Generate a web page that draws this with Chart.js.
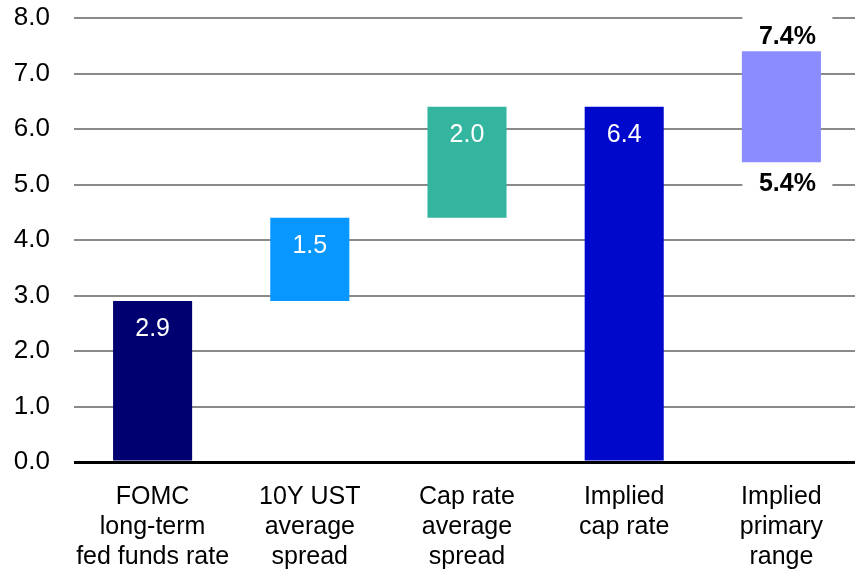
<!DOCTYPE html>
<html>
<head>
<meta charset="utf-8">
<script src="https://cdn.jsdelivr.net/npm/chart.js@4"></script>
<style>
  html, body { margin: 0; padding: 0; background: #fff; overflow: hidden; }
  #wrap { width: 855px; height: 570px; overflow: hidden; }
</style>
</head>
<body>
<div id="wrap"><canvas id="c" width="860" height="570"></canvas></div>
<script>
// Build-up of the implied cap rate from its components
const categories = [
  ['FOMC', 'long-term', 'fed funds rate'],
  ['10Y UST', 'average', 'spread'],
  ['Cap rate', 'average', 'spread'],
  ['Implied', 'cap rate'],
  ['Implied', 'primary', 'range']
];
const barLow  = [0.0, 2.9, 4.4, 0.0, 5.4];
const barHigh = [2.9, 4.4, 6.4, 6.4, 7.4];
const barColors = ['#000070', '#0897ff', '#33b59f', '#0008cc', '#8b8cff'];
// Bars whose size is printed inside; the last bar shows its ends instead
const showInside = [true, true, true, true, false];
const rangeIndex = 4;
const yTicks = { min: 0, max: 8, step: 1 };

const FONT = "'Liberation Sans', Arial, sans-serif";

const labelsPlugin = {
  id: 'barLabels',
  beforeDatasetsDraw(chart) {
    // white boxes behind the range end labels interrupt the gridlines
    const ctx = chart.ctx;
    const bar = chart.getDatasetMeta(0).data[rangeIndex];
    const cx = bar.x + 6;
    ctx.save();
    ctx.fillStyle = '#ffffff';
    ctx.fillRect(cx - 45, bar.y - 36, 90, 34);
    ctx.fillRect(cx - 45, bar.base + 3, 90, 36);
    ctx.restore();
  },
  afterDatasetsDraw(chart) {
    const ctx = chart.ctx;
    const meta = chart.getDatasetMeta(0);
    ctx.save();
    ctx.textAlign = 'center';
    ctx.textBaseline = 'middle';
    meta.data.forEach((bar, i) => {
      const lo = barLow[i], hi = barHigh[i];
      if (showInside[i]) {
        ctx.fillStyle = '#ffffff';
        ctx.font = '25px ' + FONT;
        ctx.fillText((hi - lo).toFixed(1), bar.x, bar.y + 28);
      } else {
        ctx.fillStyle = '#000000';
        ctx.font = 'bold 25px ' + FONT;
        ctx.fillText(hi.toFixed(1) + '%', bar.x + 6, bar.y - 14);
        ctx.fillText(lo.toFixed(1) + '%', bar.x + 6, bar.base + 22);
      }
    });
    ctx.restore();
  }
};

new Chart(document.getElementById('c'), {
  type: 'bar',
  data: {
    labels: categories,
    datasets: [{
      data: barLow.map((lo, i) => [lo, barHigh[i]]),
      backgroundColor: barColors,
      borderWidth: 0,
      barPercentage: 0.503,
      categoryPercentage: 1.0
    }]
  },
  options: {
    responsive: false,
    animation: false,
    devicePixelRatio: 1,
    layout: { padding: { top: 18, right: 0, bottom: 0, left: 0 } },
    plugins: { legend: { display: false }, tooltip: { enabled: false } },
    scales: {
      x: {
        grid: { display: false, drawTicks: false },
        border: { display: false },
        ticks: {
          color: '#000',
          font: { family: FONT, size: 25, lineHeight: 1.2 },
          padding: 20,
          maxRotation: 0,
          autoSkip: false
        },
        afterFit(scale) {
          scale.height = 108;
          scale.paddingLeft = 0;
          scale.paddingRight = 0;
        }
      },
      y: {
        min: yTicks.min,
        max: yTicks.max,
        grid: {
          drawTicks: false,
          color: ctx => ctx.tick && ctx.tick.value === 0 ? '#000000' : '#8a8a8a',
          lineWidth: ctx => ctx.tick && ctx.tick.value === 0 ? 3 : 2
        },
        border: { display: false },
        ticks: {
          stepSize: yTicks.step,
          color: '#000',
          font: { family: FONT, size: 26 },
          padding: 24,
          callback: v => Number(v).toFixed(1)
        },
        afterFit(scale) {
          scale.width = 74;
          scale.paddingTop = 0;
          scale.paddingBottom = 0;
        }
      }
    }
  },
  plugins: [labelsPlugin]
});
</script>
</body>
</html>
